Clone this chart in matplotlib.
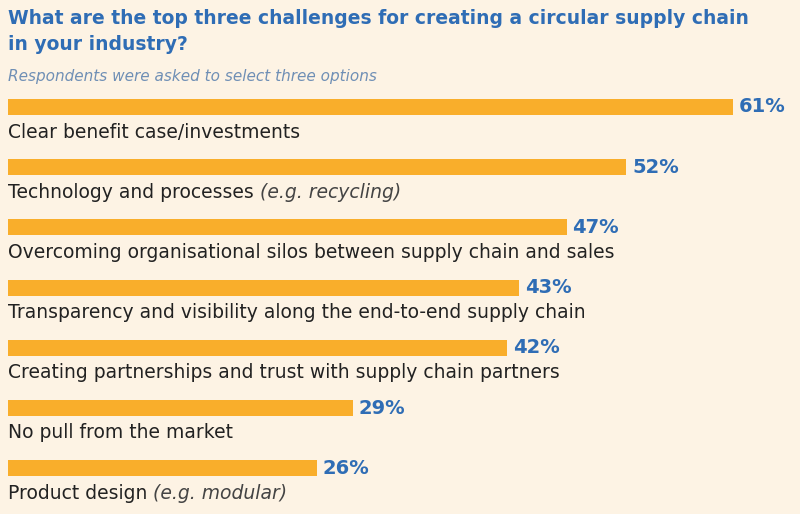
import matplotlib
matplotlib.use("Agg")
import matplotlib.pyplot as plt

categories = ["Clear benefit case/investments",
              "Technology and processes",
              "Overcoming organisational silos between supply chain and sales",
              "Transparency and visibility along the end-to-end supply chain",
              "Creating partnerships and trust with supply chain partners",
              "No pull from the market",
              "Product design"]
suffixes = ["", " (e.g. recycling)", "", "", "", "", " (e.g. modular)"]
values = [61, 52, 47, 43, 42, 29, 26]

bg = "#FDF3E4"
blue = "#2F6DB5"
orange = "#F9AE2B"

fig = plt.figure(figsize=(8, 5.14), dpi=100, facecolor=bg)
fig.text(8/800, 1-18/514, "What are the top three challenges for creating a circular supply chain",
         color=blue, fontsize=13.5, fontweight="bold", va="center", family="DejaVu Sans")
fig.text(8/800, 1-45/514, "in your industry?", color=blue, fontsize=13.5,
         fontweight="bold", va="center", family="DejaVu Sans")
fig.text(8/800, 1-77/514, "Respondents were asked to select three options", color="#6F8FB5",
         fontsize=11, style="italic", va="center")

ax = fig.add_axes([8/800, 0, (733-8)/800, 1])
ax.set_facecolor(bg)
ax.set_xlim(0, 61)
ax.set_ylim(514, 0)
ax.axis("off")

ys = [107 + 60.2*i for i in range(len(values))]
ax.barh(ys, values, height=16, color=orange)
for y, v, c, s in zip(ys, values, categories, suffixes):
    ax.text(v + 0.5, y, f"{v}%", color=blue, fontsize=14, fontweight="bold", va="center", ha="left")
    t = ax.text(0, y + 25, c, color="#222222", fontsize=13.5, va="center", ha="left")
    if s:
        ax.annotate(s, xycoords=t, xy=(1, 0.5), va="center", ha="left",
                    fontsize=13.5, style="italic", color="#444444")

fig.savefig("out.png", dpi=100, facecolor=bg)
